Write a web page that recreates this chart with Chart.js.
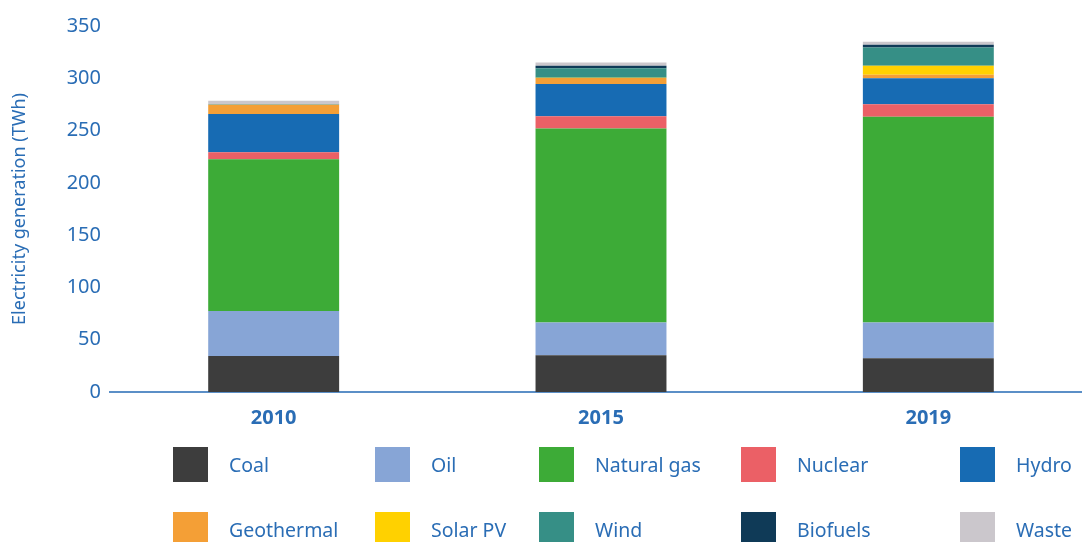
<!DOCTYPE html>
<html>
<head>
<meta charset="utf-8">
<script src="https://cdn.jsdelivr.net/npm/chart.js@4"></script>
<style>
  html, body { margin: 0; padding: 0; background: #fff; overflow: hidden; width: 1082px; height: 542px; }
  #wrap { position: relative; width: 1092px; height: 444px; }
  #legend { position: absolute; left: 0; top: 0; width: 1082px; height: 542px; pointer-events: none; }
  .item { position: absolute; display: flex; align-items: center; font-family: "Noto Sans", sans-serif; font-size: 19.5px; color: #2a6db5; }
  .box { width: 35px; height: 35px; margin-right: 21px; }
</style>
</head>
<body>
<div id="wrap"><canvas id="genChart"></canvas></div>
<div id="legend"></div>
<script>
const years = ["2010", "2015", "2019"];
const sources = ["Coal", "Oil", "Natural gas", "Nuclear", "Hydro", "Geothermal", "Solar PV", "Wind", "Biofuels", "Waste"];
const colors = ["#3d3d3d", "#87a5d6", "#3dab37", "#eb6066", "#176bb3", "#f49f36", "#ffd100", "#368f86", "#0f3a57", "#cbc7cc"];

// TWh per source, one array per source (2010, 2015, 2019)
const coal = [34.5, 35.2, 32.2];
const oil = [43, 31.2, 34.2];
const naturalGas = [145, 185.7, 196.9];
const nuclear = [6.7, 11.5, 11.9];
const hydro = [36.6, 30.9, 24.9];
const geothermal = [9, 5.8, 3.2];
const solarPV = [0, 0.3, 8.6];
const wind = [0.3, 8.9, 17.5];
const biofuels = [0, 2.6, 2.6];
const waste = [3.3, 2.9, 2.9];

const yTicks = [0, 50, 100, 150, 200, 250, 300, 350];

const seriesValues = [coal, oil, naturalGas, nuclear, hydro, geothermal, solarPV, wind, biofuels, waste];
const textBlue = "#2a6db5";

const ctx = document.getElementById("genChart").getContext("2d");

new Chart(ctx, {
  type: "bar",
  data: {
    labels: years,
    datasets: sources.map((name, i) => ({
      label: name,
      data: seriesValues[i],
      backgroundColor: colors[i],
      borderWidth: 0,
      barPercentage: 0.4,
      categoryPercentage: 1,
    })),
  },
  options: {
    responsive: true,
    maintainAspectRatio: false,
    animation: false,
    layout: { padding: { top: 26, right: 0, bottom: 0, left: 0 } },
    plugins: {
      legend: { display: false },
      tooltip: { enabled: false },
    },
    scales: {
      x: {
        stacked: true,
        grid: { display: false, drawTicks: false },
        border: { display: true, color: "#5b8fc7", width: 2 },
        ticks: {
          color: textBlue,
          padding: 14,
          font: { family: "Noto Sans", size: 20, weight: "bold" },
        },
      },
      y: {
        stacked: true,
        min: 0,
        max: 350,
        afterFit: (scale) => { scale.width = 110; },
        afterBuildTicks: (scale) => { scale.ticks = yTicks.map((v) => ({ value: v })); },
        grid: { display: false, drawTicks: false },
        border: { display: false },
        ticks: {
          color: textBlue,
          padding: 9,
          font: { family: "Noto Sans", size: 20 },
        },
        title: {
          display: true,
          text: "Electricity generation (TWh)",
          color: textBlue,
          padding: { top: 9, bottom: 0 },
          font: { family: "Noto Sans", size: 18 },
        },
      },
    },
  },
});

// legend laid out in five columns, two rows
const legendCols = [173, 375, 539, 741, 960];
const legendRows = [447, 512];
const legend = document.getElementById("legend");
sources.forEach((name, i) => {
  const el = document.createElement("div");
  el.className = "item";
  el.style.left = legendCols[i % 5] + "px";
  el.style.top = legendRows[Math.floor(i / 5)] + "px";
  el.innerHTML = `<span class="box" style="background:${colors[i]}"></span><span>${name}</span>`;
  legend.appendChild(el);
});
</script>
</body>
</html>
